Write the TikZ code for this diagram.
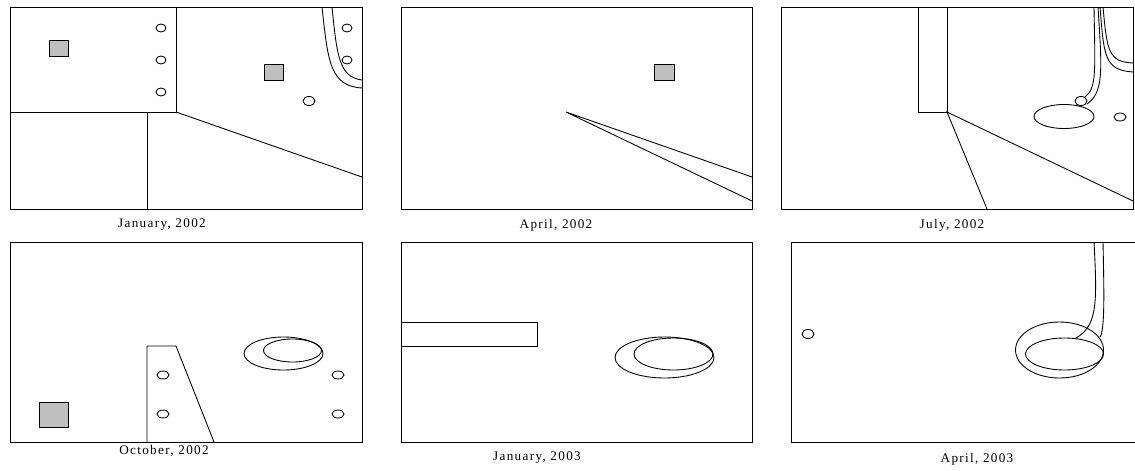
\documentclass[tikz,border=0pt]{standalone}
\usepackage{fontspec}
\setmainfont{Liberation Serif}
\usetikzlibrary{positioning}

\begin{document}
\begin{tikzpicture}[x=0.02cm,y=-0.02cm,line width=0.5pt,
  patch/.style={draw,fill=black!25},
  hole/.style={draw},
  caption/.style={font=\fontsize{7.5}{9}\selectfont\addfontfeatures{LetterSpace=10},inner sep=0pt}]
  \useasboundingbox (0,0) rectangle (1135,470);

  % January, 2002
  \draw (10,7) rectangle (362,209);
  \draw (176,7) -- (176,112) -- (10,112);
  \draw (147,112) -- (147,209);
  \draw (176,112) -- (362,177);
  \draw[patch] (49,40) rectangle (68,56);
  \draw[patch] (264,64) rectangle (283,80);
  \foreach \y in {28,60,92}
    \draw[hole] (161,\y) ellipse [x radius=5,y radius=4];
  \foreach \y in {28,60}
    \draw[hole] (347,\y) ellipse [x radius=5,y radius=4];
  \draw[hole] (309,101) ellipse [x radius=6,y radius=4.5];
  \draw (322,7) .. controls (328,62) and (330,86) .. (362,88);
  \draw (332,7) .. controls (337,56) and (339,77) .. (362,80);
  \node[caption] (jan02) at (162,225) {January, 2002};

  % April, 2002
  \draw (401,7) rectangle (752,209);
  \draw[patch] (654,64) rectangle (674,80);
  \draw (752,177) -- (566,112) -- (752,201);
  \node[caption] (apr02) at (556,225) {April, 2002};

  % July, 2002
  \draw (781,7) rectangle (1133,209);
  \draw (918,7) -- (918,112) -- (947,112) -- (947,7);
  \draw (987,209) -- (947,112) -- (1133,201);
  \draw[hole] (1064,116.5) ellipse [x radius=30,y radius=12];
  \draw[hole] (1081,101) ellipse [x radius=6,y radius=4.5];
  \draw[hole] (1120,117) ellipse [x radius=6,y radius=4];
  \draw (1094,7) .. controls (1095,70) and (1097,88) .. (1085,97);
  \draw (1098,7) .. controls (1102,70) and (1104,92) .. (1087,104);
  \draw (1100,7) .. controls (1104,56) and (1104,70) .. (1133,72);
  \draw (1103,7) .. controls (1107,50) and (1108,62) .. (1133,63);
  \node[caption] (jul02) at (952,225) {July, 2002};

  % October, 2002
  \draw (10,242) rectangle (362,442);
  \draw[patch] (39,402) rectangle (68,427);
  \draw (147,442) -- (147,346) -- (176,346) -- (214,442);
  \foreach \x in {163,338}
    \foreach \y in {375,414}
      \draw[hole] (\x,\y) ellipse [x radius=6,y radius=4];
  \draw (283.5,353.5) ellipse [x radius=39.5,y radius=16.5];
  \draw (292.5,350.5) ellipse [x radius=29,y radius=11.5];
  \node[caption] (oct02) at (164,451) {October, 2002};

  % January, 2003
  \draw (401,242) rectangle (752,442);
  \draw (401,322) -- (537,322) -- (537,346) -- (401,346);
  \draw (664.5,357.5) ellipse [x radius=49.5,y radius=20.5];
  \draw (673.5,354) ellipse [x radius=39.5,y radius=16];
  \node[caption] (jan03) at (537,458) {January, 2003};

  % April, 2003
  \draw (1135,242) -- (791,242) -- (791,442) -- (1135,442);
  \draw[hole] (808,334) ellipse [x radius=6,y radius=4.5];
  \draw (1059.5,350) ellipse [x radius=44,y radius=28];
  \draw (1064.5,354) ellipse [x radius=39,y radius=16];
  \draw (1094,242) .. controls (1097,300) and (1098,326) .. (1076,338);
  \draw (1103,242) .. controls (1104,290) and (1105,330) .. (1100,337);
  \node[caption] (apr03) at (977,459) {April, 2003};
\end{tikzpicture}
\end{document}
